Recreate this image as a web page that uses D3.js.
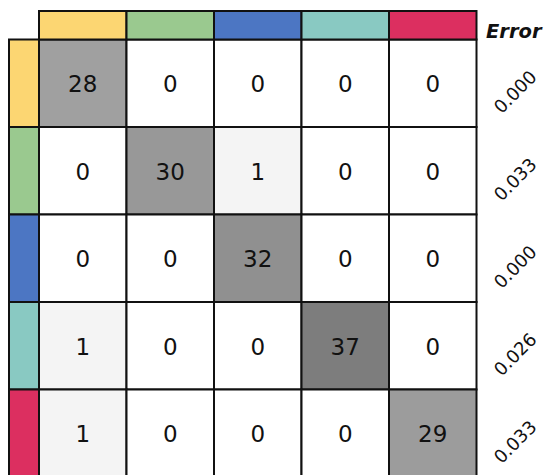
<!DOCTYPE html>
<html><head><meta charset="utf-8">
<script src="https://cdn.jsdelivr.net/npm/d3@7"></script>
<style>html,body{margin:0;padding:0;background:#fff;}</style>
</head><body>
<svg id="chart" width="545" height="475"></svg>
<script>
const classes = ["A", "B", "C", "D", "E"];
const classColors = ["#fcd672", "#9ac98f", "#4c76c3", "#89c9c2", "#dc2f60"];
const matrix = [
  [28, 0, 0, 0, 0],
  [0, 30, 1, 0, 0],
  [0, 0, 32, 0, 0],
  [1, 0, 0, 37, 0],
  [1, 0, 0, 0, 29]
];
const errors = ["0.000", "0.033", "0.000", "0.026", "0.033"];

const svg = d3.select("#chart");
const x0 = 39, y0 = 39.5, size = 87.5;
const x = d3.scaleBand().domain(d3.range(classes.length)).range([x0, x0 + size * classes.length]);
const y = d3.scaleBand().domain(d3.range(classes.length)).range([y0, y0 + size * classes.length]);
const grey = d3.scaleLinear().domain([0, 1, 28, 37]).range([255, 244, 160, 125]);
const fill = v => { const g = Math.round(grey(v)); return `rgb(${g},${g},${g})`; };

const cells = [];
matrix.forEach((row, i) => row.forEach((v, j) => cells.push({i, j, v})));

// cells
svg.append("g").selectAll("rect").data(cells).join("rect")
  .attr("x", d => x(d.j)).attr("y", d => y(d.i))
  .attr("width", x.bandwidth()).attr("height", y.bandwidth())
  .attr("fill", d => fill(d.v)).attr("stroke", "#111").attr("stroke-width", 2);

svg.append("g").selectAll("text").data(cells).join("text")
  .attr("x", d => x(d.j) + x.bandwidth() / 2)
  .attr("y", d => y(d.i) + y.bandwidth() / 2 + 1)
  .attr("text-anchor", "middle").attr("dominant-baseline", "central")
  .attr("font-family", "DejaVu Sans, Verdana, sans-serif").attr("font-size", 23)
  .attr("fill", "#111").text(d => d.v);

// header colour bars
svg.append("g").selectAll("rect").data(classes).join("rect")
  .attr("x", (d, j) => x(j)).attr("y", 11)
  .attr("width", x.bandwidth()).attr("height", y0 - 11)
  .attr("fill", (d, j) => classColors[j]).attr("stroke", "#111").attr("stroke-width", 2);

// left colour bars
svg.append("g").selectAll("rect").data(classes).join("rect")
  .attr("x", 9).attr("y", (d, i) => y(i))
  .attr("width", x0 - 9).attr("height", y.bandwidth())
  .attr("fill", (d, i) => classColors[i]).attr("stroke", "#111").attr("stroke-width", 2);

// error column
svg.append("text").attr("x", 486).attr("y", 37.5)
  .attr("font-family", "DejaVu Sans, Verdana, sans-serif").attr("font-size", 19.5)
  .attr("font-weight", "bold").attr("font-style", "italic").attr("fill", "#111")
  .text("Error");

svg.append("g").selectAll("text").data(errors).join("text")
  .attr("transform", (d, i) => `translate(515,${y(i) + y.bandwidth() / 2 + 8.5}) rotate(-45)`)
  .attr("text-anchor", "middle").attr("dominant-baseline", "central")
  .attr("font-family", "DejaVu Sans, Verdana, sans-serif").attr("font-size", 18)
  .attr("fill", "#111").text(d => d);
</script>
</body></html>
